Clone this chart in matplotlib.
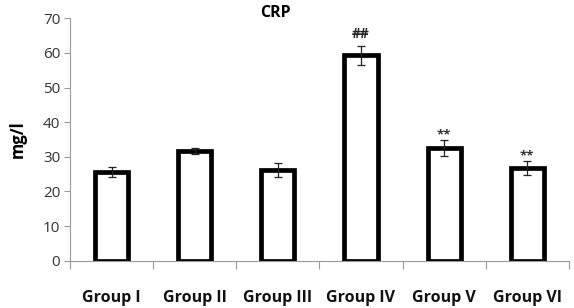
import matplotlib.pyplot as plt
import numpy as np

groups = ["Group I", "Group II", "Group III", "Group IV", "Group V", "Group VI"]
crp = [25.6, 31.6, 26.2, 59.3, 32.6, 26.8]
crp_err = [1.5, 0.8, 1.9, 2.8, 2.3, 2.0]
marks = ["", "", "", "##", "**", "**"]

plt.rcParams['font.family'] = ['Open Sans', 'DejaVu Sans']

fig = plt.figure(figsize=(5.74, 3.08), dpi=100)
ax = fig.add_axes([0.122, 0.1536, 0.869, 0.787])

x = np.arange(len(groups))
ax.bar(x, crp, width=0.4, color='white', edgecolor='black', linewidth=3.4, zorder=2)
ax.errorbar(x, crp, yerr=crp_err, fmt='none', ecolor='#222222', elinewidth=0.9,
            capsize=3, capthick=0.9, zorder=3)

for xi, v, e, m in zip(x, crp, crp_err, marks):
    if m == "##":
        ax.text(xi, v + e + 1.2, m, ha='center', va='bottom', fontsize=10,
                fontweight='bold', color='#222222')
    elif m:
        ax.text(xi, v + e - 0.3, m, ha='center', va='bottom', fontsize=9.5,
                fontweight='bold', color='#333333')

ax.set_xlim(-0.5, len(groups) - 0.5)
ax.set_ylim(0, 70)
ax.set_yticks(range(0, 71, 10))
ax.set_xticks(x)
ax.set_xticklabels(groups, fontsize=11.5, fontweight='bold', color='#111111')
ax.set_xticks(np.arange(len(groups) + 1) - 0.5, minor=True)
ax.tick_params(axis='x', which='major', length=0, pad=21)
ax.tick_params(axis='x', which='minor', length=6, color='#999999', width=0.8)
ax.tick_params(axis='y', length=4, color='#999999', width=0.8, labelsize=11,
               labelcolor='#333333', pad=3)

for s in ['top', 'right']:
    ax.spines[s].set_visible(False)
for s in ['left', 'bottom']:
    ax.spines[s].set_color('#999999')
    ax.spines[s].set_linewidth(0.8)

ax.set_ylabel('mg/l', fontsize=12, fontweight='bold', labelpad=12)
fig.text(0.479, 0.957, 'CRP', ha='center', va='center', fontsize=11.5, fontweight='bold')

fig.savefig('out.png', dpi=100)
